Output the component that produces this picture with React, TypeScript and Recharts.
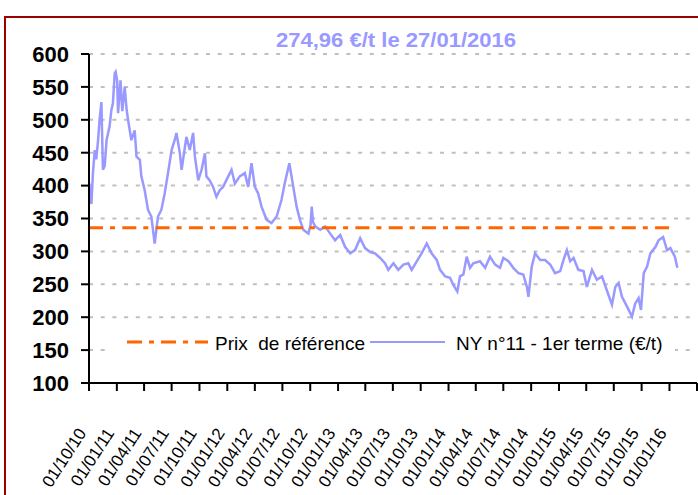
import React from 'react';
import { LineChart, Line, XAxis, YAxis, CartesianGrid, Legend } from 'recharts';

// ---- data ----
const startLabel = '01/10/10';
const quarterLabels = [
  '01/10/10', '01/01/11', '01/04/11', '01/07/11', '01/10/11', '01/01/12', '01/04/12', '01/07/12',
  '01/10/12', '01/01/13', '01/04/13', '01/07/13', '01/10/13', '01/01/14', '01/04/14', '01/07/14',
  '01/10/14', '01/01/15', '01/04/15', '01/07/15', '01/10/15', '01/01/16',
];
const axisEndLabel = '01/04/16';

// days since 01/10/2010
const priceDays = [
  0, 4, 8, 13, 19, 24, 30, 35, 41, 46,
  52, 58, 68, 74, 79, 85, 88, 93, 96, 104,
  110, 118, 124, 129, 140, 151, 157, 168, 173, 184,
  195, 206, 217, 228, 239, 250, 261, 273, 283, 289,
  300, 306, 317, 322, 333, 344, 350, 361, 372, 383,
  388, 399, 410, 421, 432, 443, 460, 471, 482, 498,
  515, 526, 537, 548, 559, 570, 587, 603, 620, 636,
  647, 662, 675, 686, 697, 708, 725, 732, 736, 740,
  747, 764, 780, 797, 813, 830, 846, 863, 879, 896,
  912, 929, 945, 962, 978, 989, 1006, 1022, 1039, 1055,
  1066, 1083, 1099, 1116, 1132, 1149, 1160, 1177, 1193, 1204,
  1217, 1226, 1237, 1248, 1259, 1270, 1292, 1309, 1325, 1342,
  1358, 1369, 1386, 1402, 1419, 1435, 1447, 1452, 1463, 1474,
  1491, 1507, 1524, 1540, 1557, 1568, 1579, 1590, 1601, 1617,
  1634, 1645, 1662, 1678, 1695, 1711, 1728, 1739, 1750, 1761,
  1778, 1794, 1805, 1816, 1824, 1833, 1844, 1855, 1872, 1882,
  1897, 1910, 1921, 1928, 1936, 1944,
];
const priceValues = [
  404, 390, 372, 419, 454, 440, 469, 500, 527, 424,
  430, 469, 490, 515, 525, 571, 573, 560, 510, 560,
  513, 550, 517, 500, 469, 484, 444, 439, 414, 393,
  363, 353, 312, 353, 363, 388, 419, 454, 469, 480,
  450, 424, 459, 474, 454, 480, 444, 408, 424, 449,
  414, 408, 398, 383, 393, 398, 414, 424, 403, 414,
  419, 398, 434, 398, 388, 368, 348, 343, 353, 378,
  404, 434, 398, 368, 348, 333, 327, 340, 368, 345,
  338, 333, 338, 327, 317, 325, 307, 297, 302, 320,
  305, 299, 297, 290, 282, 272, 282, 272, 280, 282,
  272, 285, 297, 312, 297, 287, 272, 262, 260, 249,
  239, 262, 265, 292, 275, 282, 285, 275, 292, 280,
  275, 290, 285, 275, 267, 265, 246, 231, 277, 297,
  287, 287, 280, 267, 270, 287, 302, 285, 290, 272,
  270, 246, 272, 257, 262, 241, 219, 246, 252, 231,
  216, 201, 221, 229, 211, 267, 277, 297, 307, 317,
  322, 302, 305, 299, 292, 275,
];
const referencePrice = 336;
const referenceFrom = '01/10/10';
const referenceTo = '01/01/16';
const yTicks = [100, 150, 200, 250, 300, 350, 400, 450, 500, 550, 600];
const titleText = '274,96 €/t le 27/01/2016';
const refName = 'Prix  de référence';
const priceName = 'NY n°11 - 1er terme (€/t)';

// ---- helpers ----
const toUtc = (s: string) => {
  const [d, m, y] = s.split('/').map(Number);
  return Date.UTC(2000 + y, m - 1, d);
};
const dayOf = (s: string) => Math.round((toUtc(s) - toUtc(startLabel)) / 86400000);

const tickDays = [...quarterLabels, axisEndLabel].map(dayOf);
const labelByDay: Record<number, string> = {};
quarterLabels.forEach((l) => { labelByDay[dayOf(l)] = l; });

const priceData = priceDays.map((d, i) => ({ day: d, price: priceValues[i] }));
const refData = [
  { day: dayOf(referenceFrom), ref: referencePrice },
  { day: dayOf(referenceTo), ref: referencePrice },
];

const FONT = '"Liberation Sans", Arial, sans-serif';
const BLUE = '#9999FF';
const ORANGE = '#FF6600';

const XTick = (props: any) => {
  const { x, y, payload } = props;
  const label = labelByDay[payload.value];
  if (!label) return null;
  return (
    <text
      transform={`translate(${x - 2},${y + 40}) rotate(-57)`}
      textAnchor="end"
      fontSize={17}
      fontFamily={FONT}
      fill="#000"
    >
      {label}
    </text>
  );
};

const LegendBox = () => (
  <svg width={570} height={36} style={{ display: 'block', background: '#fff' }}>
    <line x1={22} y1={17} x2={103} y2={17} stroke={ORANGE} strokeWidth={3} strokeDasharray="15 7 5 7" />
    <text x={110} y={25} fontSize={19} fontFamily={FONT} fill="#000" xmlSpace="preserve">
      {refName}
    </text>
    <line x1={265} y1={17} x2={340} y2={17} stroke={BLUE} strokeWidth={2} />
    <text x={351} y={25} fontSize={19} fontFamily={FONT} fill="#000">
      {priceName}
    </text>
  </svg>
);

export default function App() {
  return (
    <div style={{ position: 'absolute', left: 0, top: 0, width: 698, height: 495, overflow: 'hidden', background: '#fff' }}>
      <div style={{ position: 'absolute', left: 4, top: 16, width: 740, height: 540, border: '2.5px solid #990000', boxSizing: 'border-box' }} />
      <LineChart width={698} height={495} margin={{ top: 54, right: 1, bottom: 0, left: 0 }} style={{ position: 'absolute', left: 0, top: 0 }}>
        <CartesianGrid vertical={false} stroke="#BFBFBF" strokeWidth={2} strokeDasharray="4 7.7" />
        <XAxis
          type="number"
          dataKey="day"
          domain={[0, dayOf(axisEndLabel)]}
          ticks={tickDays}
          interval={0}
          height={112}
          tickSize={8}
          tickMargin={2}
          axisLine={{ stroke: '#000', strokeWidth: 2 }}
          tickLine={{ stroke: '#000', strokeWidth: 2 }}
          tick={<XTick />}
          allowDataOverflow
        />
        <YAxis
          type="number"
          domain={[100, 600]}
          ticks={yTicks}
          interval={0}
          width={89}
          tickSize={8}
          tickMargin={12}
          axisLine={{ stroke: '#000', strokeWidth: 2 }}
          tickLine={{ stroke: '#000', strokeWidth: 2 }}
          tick={{ fill: '#000', fontSize: 22, fontWeight: 'bold', fontFamily: FONT }}
          allowDataOverflow
        />
        <Line data={priceData} dataKey="price" name={priceName} stroke={BLUE} strokeWidth={2.5} dot={false} isAnimationActive={false} />
        <Line data={refData} dataKey="ref" name={refName} stroke={ORANGE} strokeWidth={3} strokeDasharray="14 7 5 7.3" dot={false} isAnimationActive={false} />
        <Legend
          layout="horizontal"
          verticalAlign="middle"
          align="center"
          content={<LegendBox />}
          wrapperStyle={{ position: 'absolute', left: 105, top: 325, width: 570, height: 36 }}
        />
      </LineChart>
      <svg width={698} height={60} style={{ position: 'absolute', left: 0, top: 0, pointerEvents: 'none' }}>
        <text x={396} y={47} textAnchor="middle" fontSize={21} fontWeight="bold" fontFamily={FONT} fill={BLUE} textLength={240} lengthAdjust="spacingAndGlyphs">
          {titleText}
        </text>
      </svg>
    </div>
  );
}
